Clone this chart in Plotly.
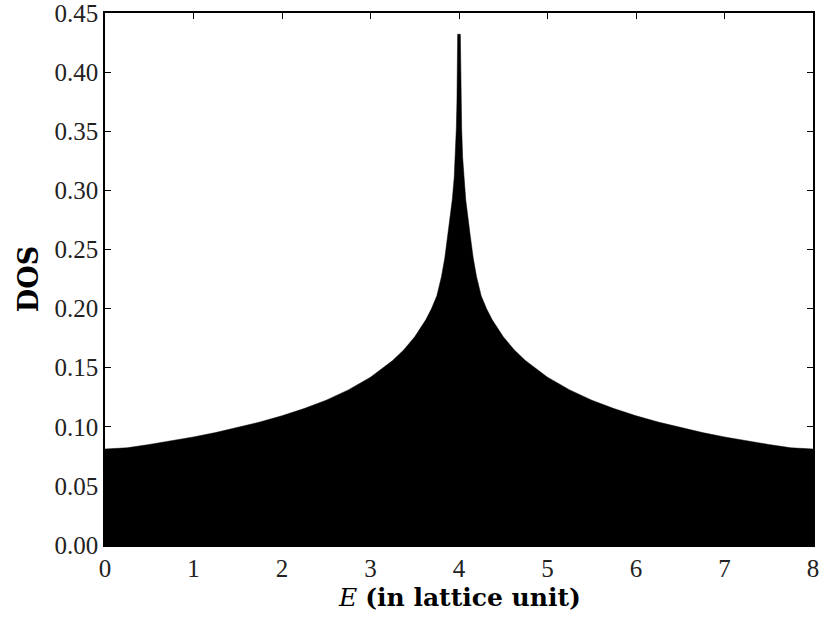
import plotly.graph_objects as go

# Energy grid (lattice units) and density of states
energy = [0.0, 0.25, 0.5, 0.75, 1.0, 1.25, 1.5, 1.75, 2.0, 2.25, 2.5, 2.75, 3.0, 3.25, 3.375, 3.5,
          3.625, 3.6875, 3.75, 3.802, 3.84, 3.877, 3.924, 3.946, 3.959, 3.970, 3.977, 3.985,
          4.015, 4.023, 4.030, 4.041, 4.054, 4.076, 4.123, 4.16, 4.198, 4.25, 4.3125, 4.375,
          4.5, 4.625, 4.75, 5.0, 5.25, 5.5, 5.75, 6.0, 6.25, 6.5, 6.75, 7.0, 7.25, 7.5, 7.75, 8.0]
dos = [0.0812, 0.0822, 0.0850, 0.0881, 0.0914, 0.0951, 0.0993, 0.1040, 0.1093, 0.1154, 0.1225, 0.1312,
       0.1419, 0.1560, 0.1650, 0.1761,
       0.1905, 0.1996, 0.2109, 0.227, 0.243, 0.264, 0.292, 0.311, 0.328, 0.353, 0.376, 0.432,
       0.432, 0.376, 0.353, 0.328, 0.311, 0.292, 0.264, 0.243, 0.227, 0.2109, 0.1996, 0.1905,
       0.1761, 0.1650, 0.1560, 0.1419, 0.1312, 0.1225, 0.1154, 0.1093, 0.1040, 0.0993, 0.0951, 0.0914,
       0.0881, 0.0850, 0.0822, 0.0812]

x_ticks = [0, 1, 2, 3, 4, 5, 6, 7, 8]
y_ticks = [0.0, 0.05, 0.10, 0.15, 0.20, 0.25, 0.30, 0.35, 0.40, 0.45]
y_ticktext = ["0.00", "0.05", "0.10", "0.15", "0.20", "0.25", "0.30", "0.35", "0.40", "0.45"]

TICK_FONT = "Liberation Serif"
TITLE_FONT = "DejaVu Serif"

fig = go.Figure()
fig.add_trace(go.Scatter(
    x=energy, y=dos, mode="lines", fill="tozeroy",
    fillcolor="black", line=dict(color="black", width=0.5),
    hoverinfo="skip", showlegend=False,
))

axis_common = dict(
    showline=True, linecolor="black", linewidth=1.5, mirror="ticks",
    ticks="inside", ticklen=6, tickwidth=1.2, tickcolor="black",
    showgrid=False, zeroline=False, automargin=False,
    ticklabeloverflow="allow",
    tickfont=dict(family=TICK_FONT, size=25, color="#222"),
)

fig.update_layout(
    width=820, height=620,
    margin=dict(l=105, r=7, t=13, b=75),
    paper_bgcolor="white", plot_bgcolor="white",
    xaxis=dict(range=[0, 8], tickvals=x_ticks, ticktext=[str(v) for v in x_ticks],
               **axis_common),
    yaxis=dict(range=[0, 0.45], tickvals=y_ticks, ticktext=y_ticktext,
               title=dict(text="<b>DOS</b>", font=dict(family=TITLE_FONT, size=27, color="black"), standoff=8),
               **axis_common),
    annotations=[dict(
        text="<i>E</i> <b>(in lattice unit)</b>", xref="paper", yref="paper",
        x=0.5, y=-0.099, xanchor="center", yanchor="middle", showarrow=False,
        font=dict(family=TITLE_FONT, size=25, color="black"),
    )],
)

fig.write_html("out.html")
